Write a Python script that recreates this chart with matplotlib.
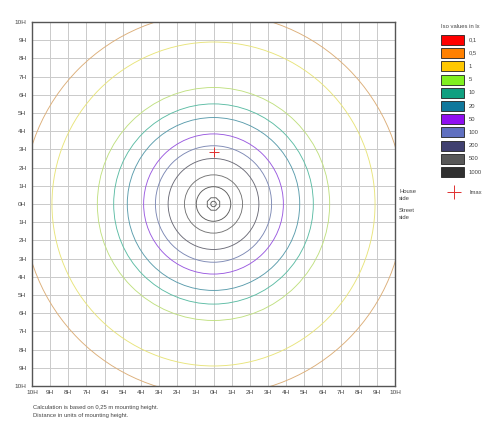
import matplotlib
matplotlib.use("Agg")
import matplotlib.pyplot as plt
from matplotlib.patches import Circle, RegularPolygon, Rectangle
import numpy as np

plt.rcParams['font.family'] = ['Liberation Sans', 'DejaVu Sans']

# iso lines (radius in units of mounting height, colour)
iso_radii = [10.5, 8.9, 6.4, 5.5, 4.75, 3.85, 3.2, 2.5, 1.6, 0.95]
iso_colors = ['#dcae78', '#e8e47a', '#c0e080', '#5cbca4', '#5a9cac',
              '#9a5ae0', '#7c88b4', '#6c6c78', '#747474', '#5c5c5c']
octagon_r = 0.37
inner_r = 0.15
imax_pos = (0, 2.88)

# legend
legend_values = ['0,1', '0,5', '1', '5', '10', '20', '50', '100', '200', '500', '1000']
legend_colors = ['#ff0000', '#ff8000', '#ffc800', '#80f020', '#10a080', '#10789c',
                 '#9010f0', '#6070c0', '#404070', '#585858', '#303030']

ticks = np.arange(-10, 11)
tick_labels = [f"{abs(t)}H" for t in ticks]

FS = 4.2
TXT = '#444444'

fig = plt.figure(figsize=(5, 4.32), dpi=100)
ax = fig.add_axes([0.064, 0.1065, 0.726, 0.8426])
ax.set_xlim(-10, 10)
ax.set_ylim(-10, 10)
ax.set_xticks(ticks)
ax.set_yticks(ticks)
ax.set_xticklabels(tick_labels)
ax.set_yticklabels(tick_labels)
ax.tick_params(length=0, labelsize=4.6, colors=TXT)
ax.tick_params(axis='y', pad=4)
ax.tick_params(axis='x', pad=3)
ax.grid(True, color='#cacaca', linewidth=0.7)
ax.set_axisbelow(True)
for s in ax.spines.values():
    s.set_color('#555555')
    s.set_linewidth(1.0)

for r, c in zip(iso_radii, iso_colors):
    ax.add_patch(Circle((0, 0), r, fill=False, edgecolor=c, linewidth=0.65))
ax.add_patch(RegularPolygon((0, 0), 8, radius=octagon_r, orientation=np.pi / 8,
                            fill=False, edgecolor='#5c5c5c', linewidth=0.65))
ax.add_patch(Circle((0, 0), inner_r, fill=False, edgecolor='#5c5c5c', linewidth=0.65))
ax.plot(*imax_pos, marker='+', color='#e03030', markersize=7, markeredgewidth=0.7)

# right side annotations
fig.text(399 / 500, 1 - 195 / 432, "House\nside", fontsize=FS, color=TXT,
         va='center', linespacing=1.4)
fig.text(399 / 500, 1 - 214 / 432, "Street\nside", fontsize=FS, color=TXT,
         va='center', linespacing=1.4)

# legend
lax = fig.add_axes([0, 0, 1, 1])
lax.set_xlim(0, 500)
lax.set_ylim(432, 0)
lax.axis('off')
lax.text(441, 26, "Iso values in lx", fontsize=FS, color=TXT, va='center')
for i, (v, c) in enumerate(zip(legend_values, legend_colors)):
    y = 35 + i * 13.2
    lax.add_patch(Rectangle((441, y), 22.5, 10, facecolor=c, edgecolor='#222222',
                            linewidth=0.6))
    lax.text(469, y + 5, v, fontsize=FS, color=TXT, va='center')
lax.plot(453.5, 192, marker='+', color='#e03030', markersize=10, markeredgewidth=0.7)
lax.text(469, 192, "Imax", fontsize=FS, color=TXT, va='center')

lax.text(33, 408, "Calculation is based on 0,25 m mounting height.", fontsize=FS,
         color=TXT, va='center')
lax.text(33, 415, "Distance in units of mounting height.", fontsize=FS,
         color=TXT, va='center')

fig.savefig("out.png", dpi=100)
